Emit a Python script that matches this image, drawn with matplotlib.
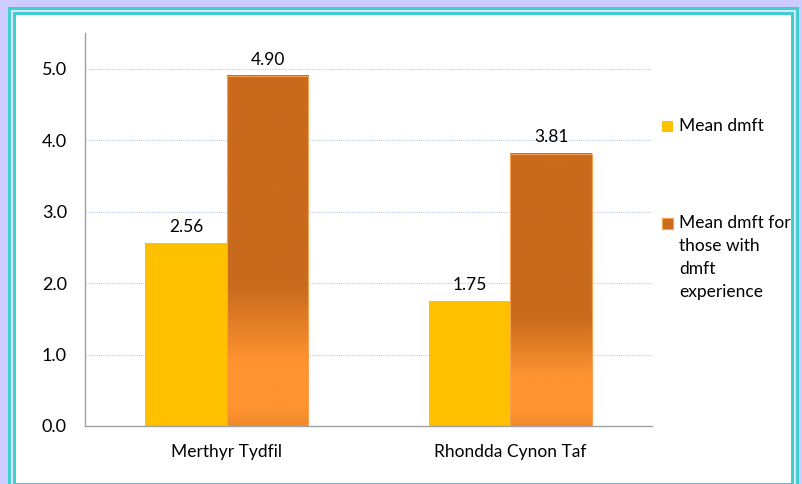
import numpy as np
import matplotlib
matplotlib.use("Agg")
import matplotlib.pyplot as plt
from matplotlib.colors import LinearSegmentedColormap
from matplotlib.patches import Rectangle

plt.rcParams["font.family"] = ["Lato", "DejaVu Sans"]

W, H = 803, 484

areas = ["Merthyr Tydfil", "Rhondda Cynon Taf"]
mean_dmft = [2.56, 1.75]
mean_dmft_exp = [4.90, 3.81]
legend_labels = ["Mean dmft", "Mean dmft for\nthose with\ndmft\nexperience"]
y_ticks = [0.0, 1.0, 2.0, 3.0, 4.0, 5.0]

YELLOW = "#FFC000"
DARK_OR = "#C96A1D"
LAVENDER = "#CCCCFF"
CYAN = "#3FCFD0"
FS = 12.5

# orange bar gradient: dark top, light orange towards the base
grad = LinearSegmentedColormap.from_list(
    "bar", [(0.0, "#F0892C"), (0.05, "#FF9430"), (0.18, "#FF9430"),
            (0.40, DARK_OR), (1.0, DARK_OR)])


def px_box(x0, y0, x1, y1):
    """Pixel box (top-left origin) -> figure-fraction rectangle args."""
    return (x0 / W, 1 - y1 / H), (x1 - x0) / W, (y1 - y0) / H


fig = plt.figure(figsize=(W / 100, H / 100), dpi=100)
fig.patch.set_facecolor(LAVENDER)

# double cyan frame around the white panel
for box, col in [((8, 7, 799, 500), CYAN), ((11, 10, 796, 500), "#DDE6F8"),
                 ((13, 12, 794, 500), CYAN), ((16, 15, 791, 483), "white")]:
    xy, w, h = px_box(*box)
    fig.patches.append(Rectangle(xy, w, h, transform=fig.transFigure,
                                 facecolor=col, edgecolor="none", zorder=-10))

ax = fig.add_axes([85 / W, 1 - 426 / H, (652 - 85) / W, (426 - 33) / H])
ax.set_facecolor("none")

x = np.arange(len(areas))
bw = 0.2875
ax.bar(x - bw / 2, mean_dmft, bw, color=YELLOW, zorder=2)
bars = ax.bar(x + bw / 2, mean_dmft_exp, bw, color="none",
              edgecolor="#F7A050", linewidth=0.8, zorder=3)
for b in bars:
    x0, w, h = b.get_x(), b.get_width(), b.get_height()
    ax.imshow(np.linspace(0, 1, 256).reshape(-1, 1), cmap=grad,
              extent=[x0, x0 + w, 0, h], origin="lower", aspect="auto",
              zorder=2)

for xi, v in zip(x - bw / 2, mean_dmft):
    ax.annotate(f"{v:.2f}", (xi, v), xytext=(0, 6), textcoords="offset points",
                ha="center", va="bottom", fontsize=FS)
for xi, v in zip(x + bw / 2, mean_dmft_exp):
    ax.annotate(f"{v:.2f}", (xi, v), xytext=(0, 6), textcoords="offset points",
                ha="center", va="bottom", fontsize=FS)

ax.set_xlim(-0.5, 1.5)
ax.set_ylim(0, 5.5)
ax.set_yticks(y_ticks)
ax.set_yticklabels([f"{t:.1f}" for t in y_ticks])
ax.set_xticks(x)
ax.set_xticklabels(areas)
ax.tick_params(axis="y", length=0, pad=13, labelsize=FS + 0.5)
ax.tick_params(axis="x", length=0, pad=13, labelsize=FS)
for t in y_ticks[1:]:
    ax.axhline(t, color="#B8CCEA", linestyle=(0, (1, 1)), linewidth=0.8,
               zorder=1)
for s in ["top", "right"]:
    ax.spines[s].set_visible(False)
for s in ["left", "bottom"]:
    ax.spines[s].set_color("#A0A0A0")
    ax.spines[s].set_linewidth(1.0)

# legend drawn as squares and text on the figure
for (top, label, col, ec) in [(121, legend_labels[0], YELLOW, "none"),
                              (218, legend_labels[1], DARK_OR, "#F7A050")]:
    xy, w, h = px_box(662, top, 673, top + 11)
    fig.patches.append(Rectangle(xy, w, h, transform=fig.transFigure,
                                 facecolor=col, edgecolor=ec, linewidth=0.8))
    fig.text(679 / W, 1 - (top - 3) / H, label, ha="left", va="top",
             fontsize=FS, linespacing=1.55)

fig.savefig("out.png", dpi=100, facecolor=fig.get_facecolor())
